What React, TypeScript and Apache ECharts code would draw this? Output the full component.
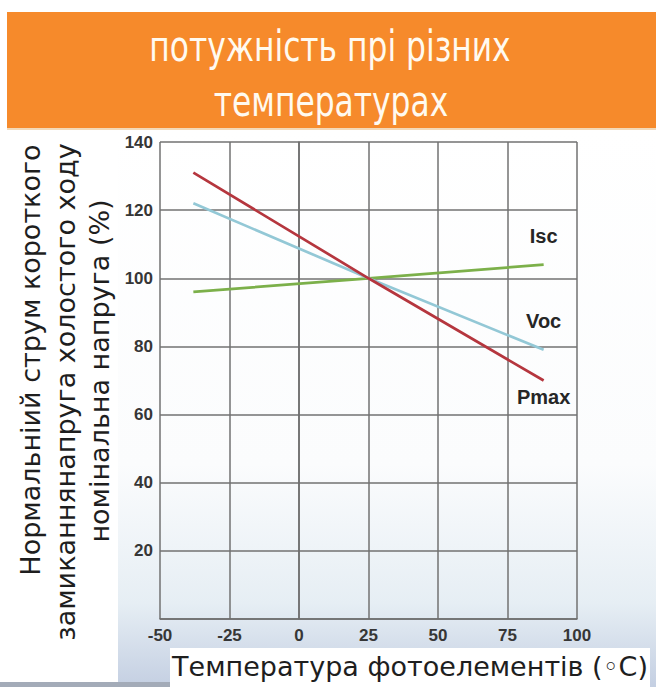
import React, { useEffect, useRef } from "react";
import * as echarts from "echarts";

// ---- data ----
const temperatures = [-38, 25, 88];
const iscValues = [96, 100, 104];
const vocValues = [122, 100, 79];
const pmaxValues = [131, 100, 70];
const seriesNames = ["Isc", "Voc", "Pmax"];
const titleLines = ["потужність прі різних", "температурах"];
const yTitleLines = [
  "Нормальніий струм короткого",
  "замиканнянапруга холостого ходу",
  "номінальна напруга (%)",
];
const xTitle = "Температура фотоелементів (◦C)";

const AXIS_FONT = "'DejaVu Sans', Verdana, sans-serif";

function buildData(values: number[], labelPos: string, labelDist: number, name: string) {
  return temperatures.map((t, i) => {
    if (i === temperatures.length - 1) {
      return {
        value: [t, values[i]],
        label: {
          show: true,
          position: labelPos,
          distance: labelDist,
          formatter: name,
          fontFamily: "'Liberation Sans', Arial, sans-serif",
          fontWeight: "bold",
          fontSize: 20,
          color: "#262626",
        },
      };
    }
    return [t, values[i]];
  });
}

export default function App() {
  const ref = useRef<HTMLDivElement>(null);
  useEffect(() => {
    if (!ref.current) return;
    const chart = echarts.init(ref.current, undefined, { renderer: "svg" });
    const tickLabel = {
      fontFamily: "'Liberation Sans', Arial, sans-serif",
      fontWeight: "bold",
      fontSize: 17,
      color: "#363636",
    };
    const lineSeries = (name: string, values: number[], color: string, pos: string, dist: number, z: number) => ({
      name,
      type: "line",
      data: buildData(values, pos, dist, name),
      showSymbol: true,
      symbol: "circle",
      symbolSize: 1,
      itemStyle: { color: "rgba(0,0,0,0)" },
      lineStyle: { color, width: 2.7 },
      z,
    });
    chart.setOption({
      animation: false,
      backgroundColor: "#ffffff",
      grid: { left: 160, right: 79, top: 142, bottom: 68, containLabel: false },
      xAxis: {
        type: "value",
        min: -50,
        max: 100,
        interval: 25,
        axisLine: { show: true, lineStyle: { color: "#6e6e6e", width: 1.5 } },
        axisTick: { show: false },
        splitLine: { show: true, lineStyle: { color: "#727272", width: 1.5 } },
        axisLabel: { ...tickLabel, margin: 8 },
      },
      yAxis: {
        type: "value",
        min: 0,
        max: 140,
        interval: 20,
        axisLine: { show: true, lineStyle: { color: "#6e6e6e", width: 1.5 } },
        axisTick: { show: false },
        splitLine: { show: true, lineStyle: { color: "#727272", width: 1.5 } },
        axisLabel: {
          ...tickLabel,
          margin: 7,
          formatter: (v: number) => (v === 0 ? "" : String(v)),
        },
      },
      graphic: [
        // backgrounds
        {
          type: "rect",
          z: -100,
          shape: { x: 118, y: 130, width: 538, height: 557 },
          style: {
            fill: new echarts.graphic.LinearGradient(0, 0, 0, 1, [
              { offset: 0, color: "#ffffff" },
              { offset: 0.6, color: "#fbfcfd" },
              { offset: 0.85, color: "#e6eef4" },
              { offset: 1, color: "#c4cfe2" },
            ]),
          },
        },
        {
          type: "rect",
          z: -99,
          shape: { x: 8, y: 130, width: 110, height: 550 },
          style: { fill: "#ffffff" },
        },
        {
          type: "rect",
          z: -99,
          shape: { x: 170, y: 648, width: 480, height: 39 },
          style: { fill: "#ffffff" },
        },
        {
          type: "rect",
          z: -99,
          shape: { x: 0, y: 682, width: 170, height: 5 },
          style: { fill: "#a3abb8" },
        },
        {
          type: "rect",
          z: -98,
          shape: { x: 7, y: 12, width: 649, height: 116 },
          style: { fill: "#f68a2b" },
        },
        {
          type: "rect",
          z: -98,
          shape: { x: 7, y: 128, width: 649, height: 2 },
          style: { fill: "#f3d9b8" },
        },
        // title
        {
          type: "text",
          z: 100,
          x: 330,
          y: 46,
          scaleX: 0.81,
          style: {
            text: titleLines[0],
            fill: "#fffaf0",
            font: "43px 'DejaVu Sans Condensed', 'DejaVu Sans', sans-serif",
            textAlign: "center",
            textVerticalAlign: "middle",
          },
        },
        {
          type: "text",
          z: 100,
          x: 331,
          y: 101,
          scaleX: 0.81,
          style: {
            text: titleLines[1],
            fill: "#fffaf0",
            font: "43px 'DejaVu Sans Condensed', 'DejaVu Sans', sans-serif",
            textAlign: "center",
            textVerticalAlign: "middle",
          },
        },
        // y titles
        {
          type: "text",
          z: 100,
          x: 30,
          y: 360,
          rotation: Math.PI / 2,
          style: {
            text: yTitleLines[0],
            fill: "#1e1e1e",
            font: `27px ${AXIS_FONT}`,
            textAlign: "center",
            textVerticalAlign: "middle",
          },
        },
        {
          type: "text",
          z: 100,
          x: 65,
          y: 392,
          rotation: Math.PI / 2,
          style: {
            text: yTitleLines[1],
            fill: "#1e1e1e",
            font: `27px ${AXIS_FONT}`,
            textAlign: "center",
            textVerticalAlign: "middle",
          },
        },
        {
          type: "text",
          z: 100,
          x: 99,
          y: 371,
          rotation: Math.PI / 2,
          style: {
            text: yTitleLines[2],
            fill: "#1e1e1e",
            font: `27px ${AXIS_FONT}`,
            textAlign: "center",
            textVerticalAlign: "middle",
          },
        },
        // x title
        {
          type: "text",
          z: 100,
          x: 410,
          y: 666,
          style: {
            text: xTitle,
            fill: "#1e1e1e",
            font: `27px ${AXIS_FONT}`,
            textAlign: "center",
            textVerticalAlign: "middle",
          },
        },
      ],
      series: [
        lineSeries(seriesNames[0], iscValues, "#7cb04a", "top", 18, 3),
        lineSeries(seriesNames[1], vocValues, "#93c8d6", "top", 18, 4),
        lineSeries(seriesNames[2], pmaxValues, "#b5363e", "bottom", 6, 5),
      ],
    });
    return () => chart.dispose();
  }, []);
  return (
    <div
      ref={ref}
      style={{ position: "fixed", left: 0, top: 0, width: 656, height: 687 }}
    />
  );
}
